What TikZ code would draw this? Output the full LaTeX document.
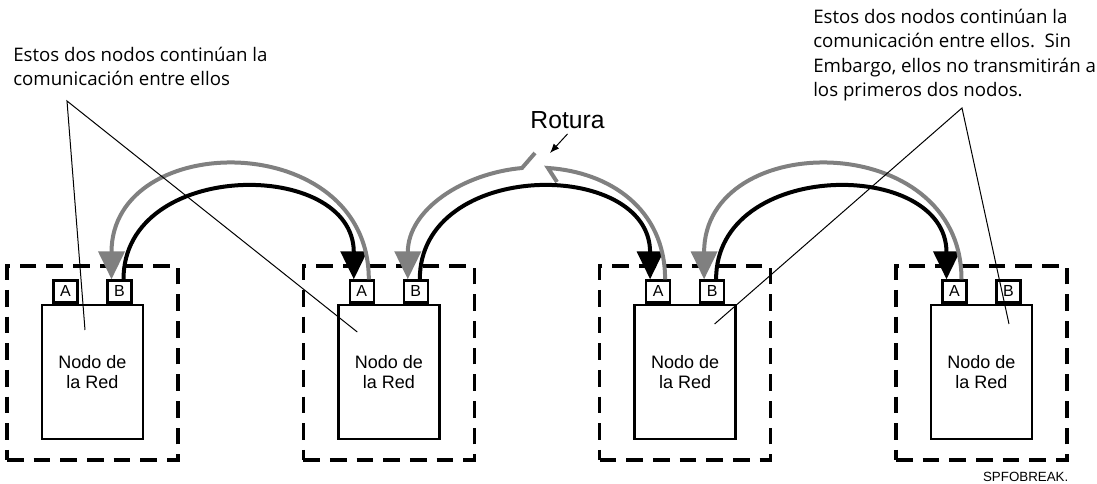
\documentclass[tikz,border=0pt]{standalone}
\usepackage{fontspec}
\setmainfont{Liberation Sans}
\newfontfamily\notefont{Open Sans}
\usetikzlibrary{calc,arrows.meta}
\colorlet{wire}{black!50}
\tikzset{
  zone/.style = {draw, line width=2.6pt, dash pattern=on 12.5pt off 7.5pt,
    minimum width=128.25pt, minimum height=145.5pt},
  netnode/.style = {draw, fill=white, line width=2.1pt, minimum width=75.75pt,
    minimum height=100.5pt, align=center, font=\fontsize{13.5}{15}\selectfont},
  port/.style = {draw, fill=white, line width=1.7pt, minimum width=18pt,
    minimum height=16.5pt, inner sep=0pt, font=\fontsize{12}{12}\selectfont},
  link/.style = {line width=3pt, -{Triangle[length=21pt,width=19.5pt]}},
  note/.style = {align=left, anchor=base west, inner sep=0pt,
    font=\notefont\fontsize{14}{18.4}\selectfont},
  leader/.style = {line width=0.75pt}
}

\begin{document}
\begin{tikzpicture}[x=0.75pt,y=-0.75pt]
  \useasboundingbox (0,0) rectangle (1097,484);
  % stations
  \foreach \i/\cx in {1/92.5,2/388.8,3/685.1,4/981.5} {
    \node[zone] (zone\i) at (\cx,363) {};
    \node[netnode] (red\i) at (\cx,372) {Nodo de\\la Red};
    \node[port,anchor=south] (pa\i) at ($(red\i.north)+(-27,0)$) {A};
    \node[port,anchor=south] (pb\i) at ($(red\i.north)+(27,0)$) {B};
  }
  % black links B -> A
  \foreach \i/\j in {1/2,2/3,3/4} {
    \coordinate (bs\i) at ($(pb\i.north)+(4,0)$);
    \coordinate (be\i) at ($(pa\j.north)+(-8,0)$);
    \draw[link] (bs\i) .. controls ($(bs\i)+(0,-121)$) and ($(be\i)+(0,-121)$) .. (be\i);
  }
  % gray links A -> B
  \foreach \i/\j in {1/2,3/4} {
    \coordinate (gs\i) at ($(pa\j.north)+(7,0)$);
    \coordinate (ge\i) at ($(pb\i.north)+(-8,0)$);
    \draw[link,wire] (gs\i) .. controls ($(gs\i)+(0,-151)$) and ($(ge\i)+(0,-151)$) .. (ge\i);
  }
  % broken gray link
  \coordinate (gs2) at ($(pa3.north)+(7,0)$);
  \coordinate (ge2) at ($(pb2.north)+(-8,0)$);
  \coordinate (brkL) at (522,168);
  \coordinate (brkR) at (548,168);
  \draw[link,wire] ($(brkL)+(13,-15)$) -- (brkL)
    .. controls ($(brkL)+(-59.6,5.5)$) and ($(ge2)+(0,-69.5)$) .. (ge2);
  \draw[wire,line width=3pt] (gs2) .. controls ($(gs2)+(0,-71)$) and ($(brkR)+(61,4)$) .. (brkR)
    -- ++(9,14);
  % break label
  \node[anchor=base,font=\fontsize{18.5}{20}\selectfont] (rot) at (567.5,129) {Rotura};
  \coordinate (tear) at (550,153);
  \draw[leader,-{Latex[length=7pt,width=5.5pt]}] (rot.south) -- (tear);
  % notes (anchored at the last line)
  \node[note] (noteL) at (13,86) {Estos dos nodos continúan la\\comunicación entre ellos};
  \node[note] (noteR) at (813,97) {Estos dos nodos continúan la\\comunicación entre ellos.\ \ Sin\\Embargo, ellos no transmitirán a\\los primeros dos nodos.};
  \coordinate (tipL) at (67,101);
  \coordinate (tipR) at (962,108);
  \draw[leader] ($(red1.center)+(-7.5,-42)$) -- (tipL) -- ($(red2.center)+(-31.5,-40)$);
  \draw[leader] ($(red3.center)+(29.5,-48)$) -- (tipR) -- ($(red4.center)+(27.5,-48)$);
  % figure code
  \node[anchor=base east,font=\fontsize{10}{12}\selectfont] (code) at (1073,482) {SPFOBREAK.};
\end{tikzpicture}
\end{document}
